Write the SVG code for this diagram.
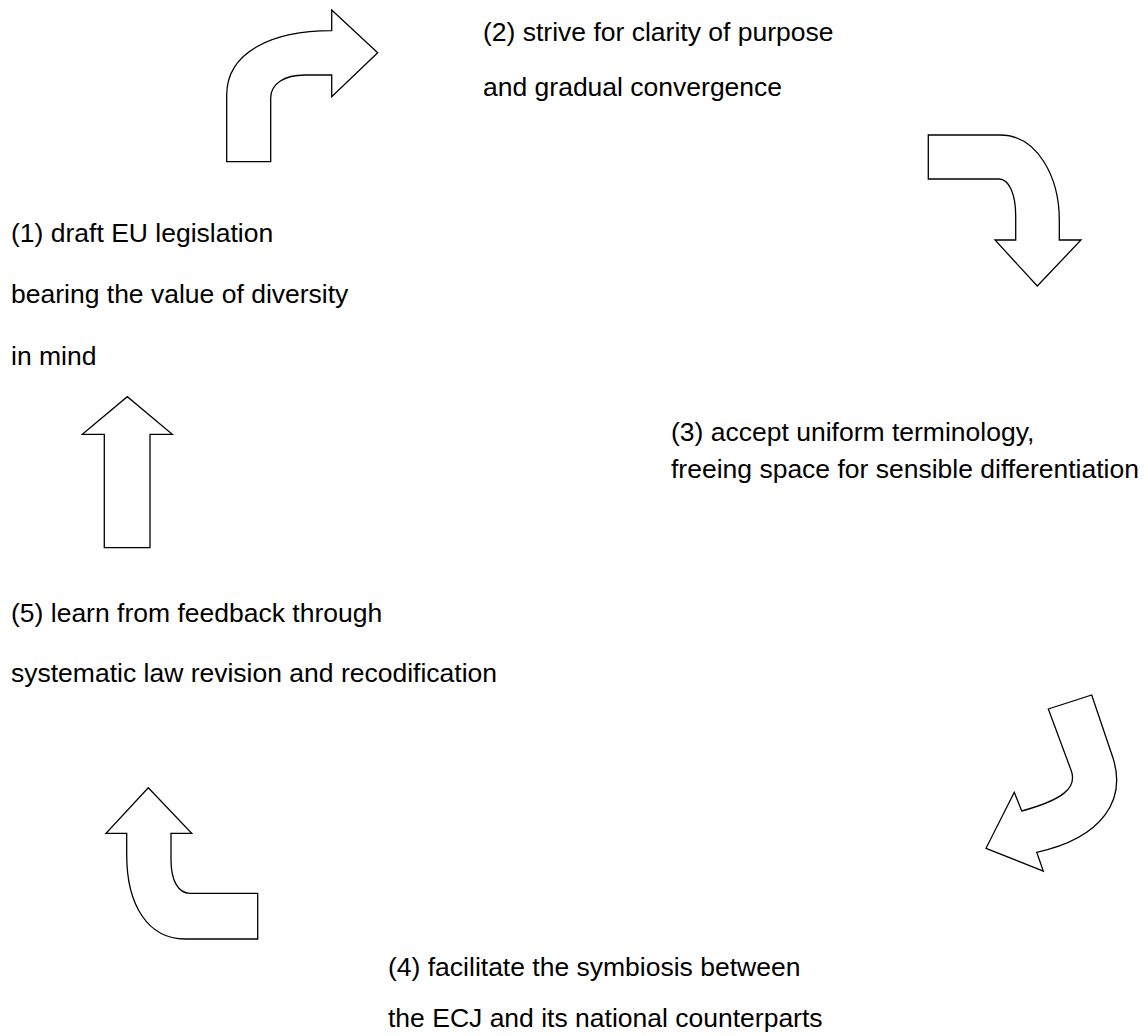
<svg xmlns="http://www.w3.org/2000/svg" width="1148" height="1036" viewBox="0 0 1148 1036">
<style>
.t{font-family:"Liberation Sans",Arial,sans-serif;font-size:26.5px;fill:#000}
.a{fill:#fff;stroke:#000;stroke-width:1.3;stroke-linejoin:miter}
</style>
<rect width="1148" height="1036" fill="#fff"/>
<g id="connectors">
<path id="arrow1" class="a" d="M226.7,161.7 L226.7,95 C226.7,52 272,30.7 331.7,30.7 L331.7,10 L377.7,52.7 L331.7,96.7 L331.7,75 L305,75 C284,75 270.7,84 270.7,98 L270.7,161.7 Z"/>
<path id="arrow2" class="a" d="M928.3,135 L1000,135 C1038,135 1059.3,178 1059.3,220 L1059.3,240 L1081,240 L1037.3,286 L995,240 L1015.7,240 L1015.7,216 C1015.7,194 1009,179 999,179 L928.3,179 Z"/>
<path id="arrow3" class="a" d="M104.3,547.7 L104.3,434.3 L82.3,434.3 L127.3,396.7 L172.3,434.3 L150,434.3 L150,547.7 Z"/>
<path id="arrow4" class="a" d="M1048.3,709 L1091.7,695 L1112,755 C1128,800 1102,838 1036.7,852.3 L1043.3,871 L986,848.3 L1014.3,792.3 L1021.7,811 C1062,800 1078,788 1071,770 Z"/>
<path id="arrow5" class="a" d="M126.7,833.3 L106,833.3 L148.3,787.7 L191.7,833.3 L171,833.3 L171,860 C171,880 178,893.3 190,893.3 L257.7,893.3 L257.7,939 L185,939 C148,939 126.7,905 126.7,855 Z"/>
</g>
<g id="node2"><text class="t" x="483" y="41">(2) strive for clarity of purpose</text><text class="t" x="483" y="96">and gradual convergence</text></g>
<g id="node1"><text class="t" x="11" y="242">(1) draft EU legislation</text><text class="t" x="11" y="303">bearing the value of diversity</text><text class="t" x="11" y="365">in mind</text></g>
<g id="node3"><text class="t" x="671" y="441">(3) accept uniform terminology,</text><text class="t" x="671" y="478">freeing space for sensible differentiation</text></g>
<g id="node5"><text class="t" x="11" y="622">(5) learn from feedback through</text><text class="t" x="11" y="682">systematic law revision and recodification</text></g>
<g id="node4"><text class="t" x="388" y="976">(4) facilitate the symbiosis between</text><text class="t" x="388" y="1027">the ECJ and its national counterparts</text></g>
</svg>
